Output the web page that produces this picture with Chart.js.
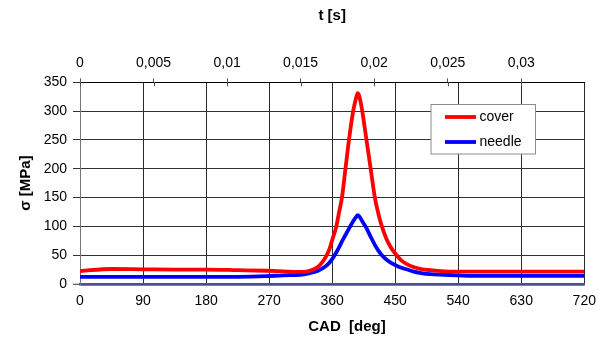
<!DOCTYPE html>
<html>
<head>
<meta charset="utf-8">
<script src="https://cdn.jsdelivr.net/npm/chart.js@4/dist/chart.umd.min.js"></script>
<style>
  html, body { margin: 0; padding: 0; background: #ffffff; }
  #wrap { width: 605px; height: 341px; }
</style>
</head>
<body>
<div id="wrap"><canvas id="c" width="605" height="341"></canvas></div>
<script>
// ---- data ----
const cad = [0, 45, 90, 135, 180, 225, 266, 290, 314, 325, 333, 340, 346, 351, 356, 361, 366, 370, 374, 379, 384, 390, 394, 396.5, 399, 403, 409, 415, 421, 426, 431, 437, 443, 450, 458, 466, 475, 487, 500, 520, 540, 570, 630, 720];
const cover = [22.5, 26, 25.5, 25, 25, 24, 23, 22, 21, 22, 25, 30, 38, 47, 60, 80, 100, 125, 150, 200, 250, 300, 322, 331, 325, 300, 250, 200, 150, 122, 100, 80, 65, 53, 42, 35, 30, 26, 24, 22, 21.5, 21.5, 21.5, 21.5];
const needle = [12.5, 12.5, 12.5, 12.5, 12.5, 12.5, 13.5, 15, 16, 18, 20.5, 23, 27, 31, 37, 45, 55, 64, 74, 85, 96, 109, 116, 119.5, 117, 109, 97, 82, 68, 58, 50, 43, 37.5, 33, 28.5, 25.5, 22, 19, 17, 16, 15, 14, 14, 14];
const seriesNames = ['cover', 'needle'];
const cadTicks = [0, 90, 180, 270, 360, 450, 540, 630, 720];
const timeTicks = [0, 0.005, 0.01, 0.015, 0.02, 0.025, 0.03];
const stressTicks = [0, 50, 100, 150, 200, 250, 300, 350];
const timeMax = 0.0342857; // 720 deg

const FONT = "'Liberation Sans', Arial, sans-serif";

const toPts = (vals) => cad.map((x, i) => ({x: x, y: vals[i]}));

const legendPlugin = {
  id: 'boxLegend',
  afterDatasetsDraw(chart) {
    const ctx = chart.ctx;
    ctx.save();
    // inner part of the top-axis tick marks (they cross the axis line)
    const sx2 = chart.scales.x2;
    const top = chart.chartArea.top;
    ctx.strokeStyle = '#555';
    ctx.lineWidth = 1;
    timeTicks.forEach(v => {
      const px = Math.round(sx2.getPixelForValue(v)) + 0.5;
      ctx.beginPath();
      ctx.moveTo(px, top);
      ctx.lineTo(px, top + 4);
      ctx.stroke();
    });
    // legend box
    const bx = 431, by = 104.5, bw = 104.5, bh = 49.5;
    ctx.fillStyle = '#ffffff';
    ctx.fillRect(bx, by, bw, bh);
    ctx.strokeStyle = '#8c8c8c';
    ctx.lineWidth = 1;
    ctx.strokeRect(bx, by, bw, bh);
    const rows = [117, 142];
    chart.data.datasets.forEach((ds, i) => {
      const y = rows[i];
      ctx.strokeStyle = ds.borderColor;
      ctx.lineWidth = 3.8;
      ctx.beginPath();
      ctx.moveTo(445, y);
      ctx.lineTo(476, y);
      ctx.stroke();
      ctx.fillStyle = '#000000';
      ctx.font = "14px " + FONT;
      ctx.textBaseline = 'middle';
      ctx.textAlign = 'left';
      ctx.fillText(ds.label, 479.5, y);
    });
    // bottom axis title
    ctx.font = "bold 15px " + FONT;
    ctx.textAlign = 'center';
    ctx.textBaseline = 'middle';
    ctx.fillStyle = '#000000';
    ctx.fillText('CAD  [deg]', 347, 327);
    ctx.restore();
  }
};

const fmtComma = (v) => String(v).replace('.', ',');

new Chart(document.getElementById('c'), {
  type: 'line',
  data: {
    datasets: [
      { label: seriesNames[0], data: toPts(cover), borderColor: '#ff0000', borderWidth: 3.8, pointRadius: 0, cubicInterpolationMode: 'monotone', fill: false },
      { label: seriesNames[1], data: toPts(needle), borderColor: '#0000ff', borderWidth: 3.8, pointRadius: 0, cubicInterpolationMode: 'monotone', fill: false }
    ]
  },
  options: {
    responsive: false,
    animation: false,
    devicePixelRatio: 1,
    layout: { padding: { left: 0, right: 20.7, top: 0, bottom: 0 } },
    plugins: { legend: { display: false }, tooltip: { enabled: false } },
    scales: {
      x: {
        type: 'linear', position: 'bottom', min: 0, max: 720,
        afterBuildTicks: (s) => { s.ticks = cadTicks.map(v => ({value: v})); },
        afterFit: (s) => { s.height = 57; s.paddingLeft = 0; s.paddingRight = 0; },
        ticks: { color: '#000', font: { family: FONT, size: 14 }, padding: 8.6, maxRotation: 0, autoSkip: false },
        grid: { color: '#2a2a2a', lineWidth: 1, drawTicks: false },
        border: { display: true, color: '#4d4d9d', width: 2.5 },
        title: { display: false }
      },
      x2: {
        type: 'linear', position: 'top', min: 0, max: timeMax,
        afterBuildTicks: (s) => { s.ticks = timeTicks.map(v => ({value: v})); },
        afterFit: (s) => { s.height = 82.3; s.paddingLeft = 0; s.paddingRight = 0; },
        ticks: { color: '#000', font: { family: FONT, size: 14 }, padding: 6.6, maxRotation: 0, autoSkip: false, callback: (v) => fmtComma(v) },
        grid: { drawOnChartArea: false, drawTicks: true, tickLength: 4, tickColor: '#555' },
        border: { display: true, color: '#000', width: 1 },
        title: { display: true, text: 't [s]', color: '#000', font: { family: FONT, size: 15, weight: 'bold' }, padding: { top: 7, bottom: 0 } }
      },
      y: {
        type: 'linear', position: 'left', min: 0, max: 350,
        afterBuildTicks: (s) => { s.ticks = stressTicks.map(v => ({value: v})); },
        afterFit: (s) => { s.width = 80; s.paddingTop = 0; s.paddingBottom = 0; },
        ticks: { color: '#000', font: { family: FONT, size: 14 }, padding: 6 },
        grid: {
          color: (c) => (c.tick && c.tick.value === 0) ? '#4d4d9d' : (c.tick && c.tick.value === 350 ? '#000' : '#333'),
          lineWidth: (c) => (c.tick && c.tick.value === 0) ? 2.5 : 1,
          tickLength: 7, tickColor: '#333', tickWidth: 1
        },
        border: { display: true, color: '#777', width: 1 },
        title: { display: true, text: 'σ [MPa]', color: '#000', font: { family: FONT, size: 15, weight: 'bold' }, padding: { top: 17, bottom: 0 } }
      }
    }
  },
  plugins: [legendPlugin]
});
</script>
</body>
</html>
